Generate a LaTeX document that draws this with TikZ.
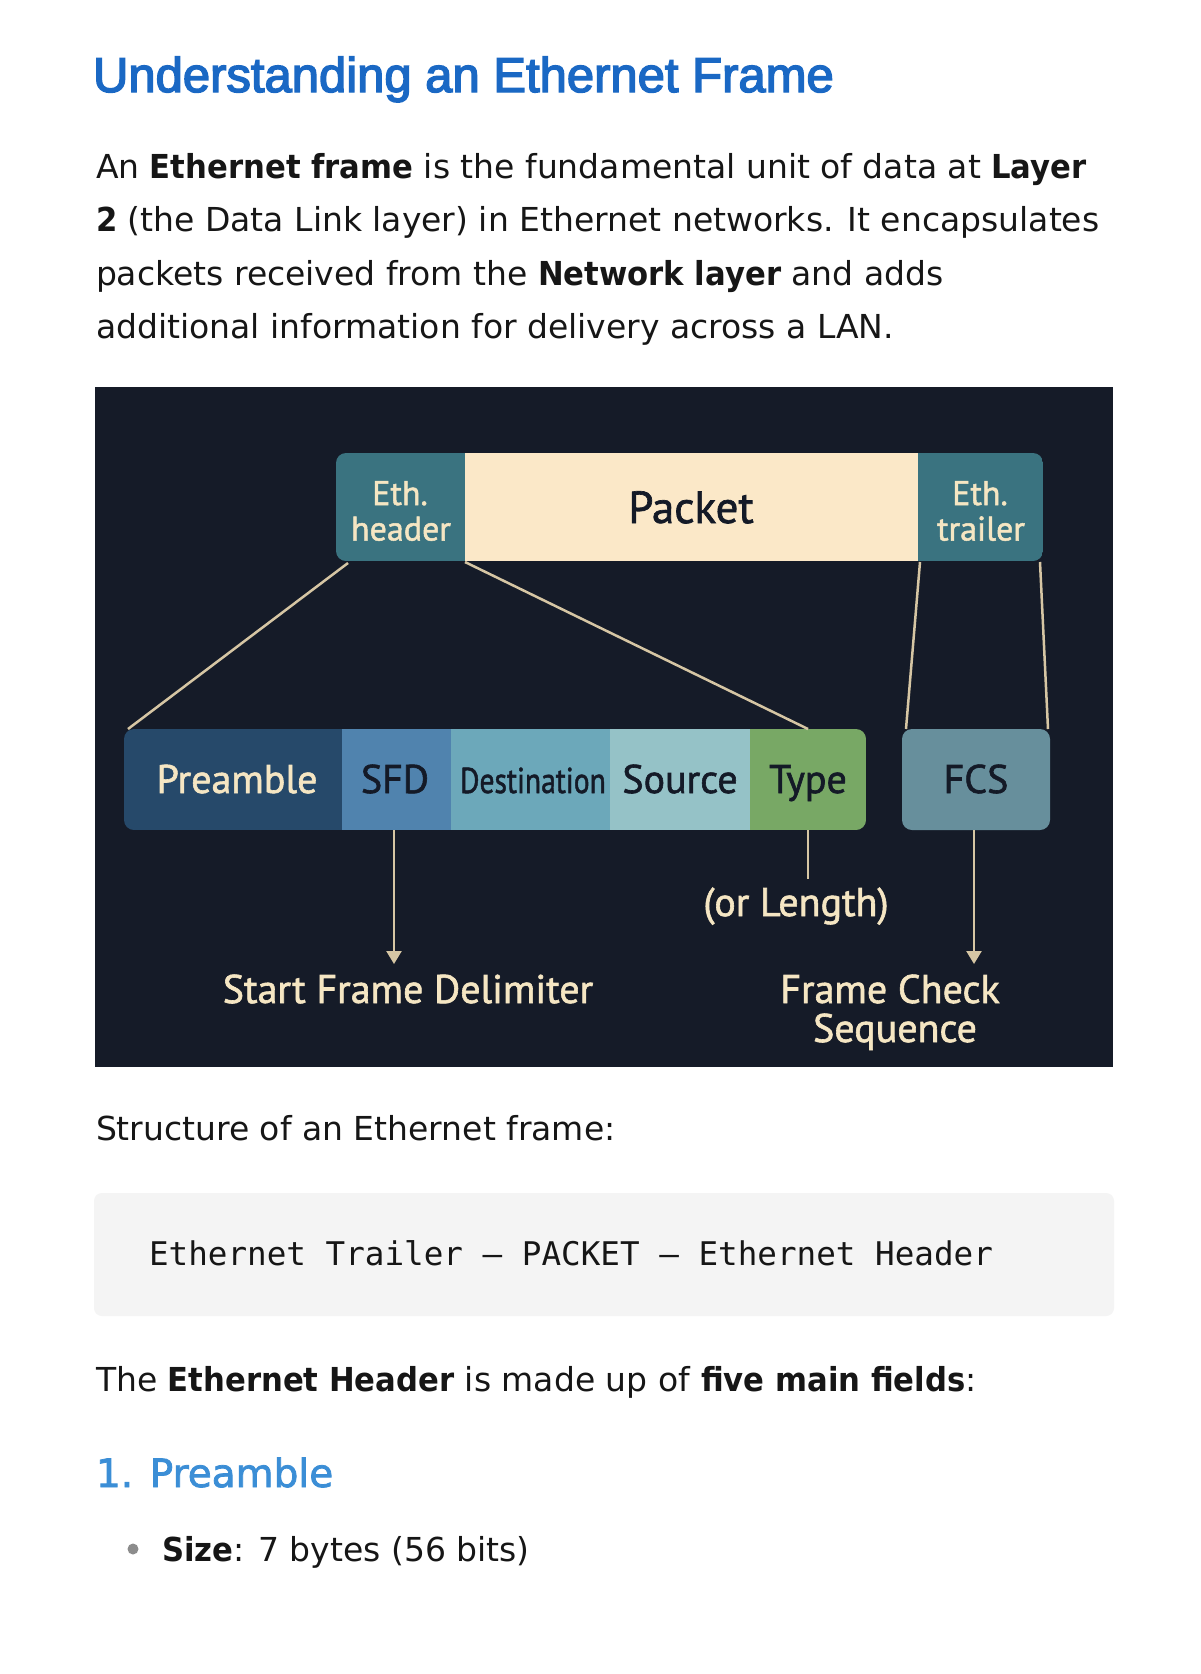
\documentclass[tikz,border=0pt]{standalone}
\usepackage{fontspec}
\setmainfont{DejaVu Sans}[BoldFeatures={FakeStretch=0.93}]
\newfontfamily\titlefont[FakeBold=3]{Liberation Sans}
\newfontfamily\headfont[FakeBold=2]{DejaVu Sans}
\newfontfamily\dfont[FakeBold=1.5]{PT Sans}
\newfontfamily\codefont{DejaVu Sans Mono}
\usetikzlibrary{arrows.meta,calc}
\newcommand{\setfs}[1]{\fontsize{#1}{#1}\selectfont}
\definecolor{bgdark}{HTML}{151B28}
\definecolor{tealC}{HTML}{3A7380}
\definecolor{creamC}{HTML}{FBE8C8}
\definecolor{txtcream}{HTML}{F5E6C3}
\definecolor{navytxt}{HTML}{141A27}
\definecolor{preC}{HTML}{26496A}
\definecolor{sfdC}{HTML}{5083AE}
\definecolor{dstC}{HTML}{6CA8BA}
\definecolor{srcC}{HTML}{95C2C7}
\definecolor{typC}{HTML}{78A865}
\definecolor{fcsC}{HTML}{678F9C}
\definecolor{lineC}{HTML}{D6C6A4}
\definecolor{titleblue}{HTML}{1A68C4}
\definecolor{headblue}{HTML}{3B8ED6}
\definecolor{codebg}{HTML}{F4F4F4}
\definecolor{bulletgray}{HTML}{8C8C8C}
\definecolor{bodyblack}{HTML}{161616}
\begin{document}
\begin{tikzpicture}[x=1pt,y=-1pt,
  every node/.style={inner sep=0pt, outer sep=0pt},
  bodytext/.style={anchor=base west, text=bodyblack, font=\setfs{33}},
  seg/.style={draw=none, minimum height=101pt},
  topseg/.style={draw=none, minimum height=108pt},
  lbl/.style={anchor=base, font=\dfont\setfs{40}},
  conn/.style={draw=lineC, line width=2.5pt},
  arr/.style={conn, -{Triangle[width=15pt,length=13pt]}}]
\fill[white] (0,0) rectangle (1200,1674);
\useasboundingbox (0,0) rectangle (1200,1674);

% title and intro
\node[anchor=base west, font=\titlefont\setfs{49}, text=titleblue] (title) at (93,92) {Understanding an Ethernet Frame};
\node[bodytext] (p1) at (96,178) {An \textbf{Ethernet frame} is the fundamental unit of data at \textbf{Layer}};
\node[bodytext] (p2) at (96,231.5) {\textbf{2} (the Data Link layer) in Ethernet networks. It encapsulates};
\node[bodytext] (p3) at (96,285) {packets received from the \textbf{Network layer} and adds};
\node[bodytext] (p4) at (96,338.5) {additional information for delivery across a LAN.};

% diagram panel
\node[fill=bgdark, minimum width=1018pt, minimum height=680pt] (panel) at (604,727) {};

% top bar
\begin{scope}
\clip[rounded corners=10pt] (336,453) rectangle (1043,561);
\node[topseg, fill=tealC, minimum width=129pt] (hdr) at (400.5,507) {};
\node[topseg, fill=creamC, minimum width=453pt] (pkt) at (691.5,507) {};
\node[topseg, fill=tealC, minimum width=125pt] (trl) at (980.5,507) {};
\end{scope}
\node[anchor=base, font=\dfont\setfs{34}, text=txtcream] (hdrA) at (400,505) {Eth.};
\node[anchor=base, font=\dfont\setfs{34}, text=txtcream] (hdrB) at (401,540.5) {header};
\node[anchor=base, font=\dfont\setfs{45}, text=navytxt] (pktT) at (691,523) {Packet};
\node[anchor=base, font=\dfont\setfs{34}, text=txtcream] (trlA) at (980,505) {Eth.};
\node[anchor=base, font=\dfont\setfs{34}, text=txtcream] (trlB) at (981,540.5) {trailer};

% bottom bar
\begin{scope}
\clip[rounded corners=10pt] (124,729) rectangle (866,830);
\node[seg, fill=preC, minimum width=218pt] (pre) at (233,779.5) {};
\node[seg, fill=sfdC, minimum width=109pt] (sfd) at (396.5,779.5) {};
\node[seg, fill=dstC, minimum width=159pt] (dst) at (530.5,779.5) {};
\node[seg, fill=srcC, minimum width=140pt] (src) at (680,779.5) {};
\node[seg, fill=typC, minimum width=116pt] (typ) at (808,779.5) {};
\end{scope}
\node[seg, fill=fcsC, minimum width=148pt, rounded corners=10pt] (fcs) at (976,779.5) {};

\node[lbl, text=txtcream] (preT) at (237,793) {Preamble};
\node[lbl, text=navytxt] (sfdT) at (395,793) {SFD};
\node[lbl, text=navytxt] (dstT) at (533,793) {\scalebox{0.74}[0.9]{Destination}};
\node[lbl, text=navytxt] (srcT) at (680,793) {Source};
\node[lbl, text=navytxt] (typT) at (808,793) {Type};
\node[lbl, text=navytxt] (fcsT) at (976,793) {FCS};

% connectors
\draw[conn] ($(hdr.south west)+(12,2)$) -- ($(pre.north west)+(4,0)$);
\draw[conn] ($(hdr.south east)+(0,1)$) -- (typ.north);
\draw[conn] ($(trl.south west)+(2,1)$) -- ($(fcs.north west)+(4,0)$);
\draw[conn] ($(trl.south east)+(-3,1)$) -- ($(fcs.north east)+(-2,0)$);

\coordinate (sfdTip) at (394,964);
\coordinate (typEnd) at (808,879);
\coordinate (fcsTip) at (974,964);
\draw[arr] ($(sfd.south)+(-2.5,0)$) -- (sfdTip);
\draw[conn] (typ.south) -- (typEnd);
\draw[arr] ($(fcs.south)+(-2,0)$) -- (fcsTip);

\node[lbl, text=txtcream] (sfdL) at (408,1003) {Start Frame Delimiter};
\node[lbl, text=txtcream] (lenL) at (796,916) {(or Length)};
\node[lbl, text=txtcream] (fcsL1) at (890,1003) {Frame Check};
\node[lbl, text=txtcream] (fcsL2) at (895,1042) {Sequence};

% below
\node[bodytext] (struct) at (96,1140) {Structure of an Ethernet frame:};
\node[fill=codebg, rounded corners=8pt, minimum width=1020pt, minimum height=123pt] (codebox) at (604,1254.5) {};
\node[anchor=base west, font=\codefont\setfs{32.6}, text=bodyblack] (code) at (149,1265) {Ethernet Trailer – PACKET – Ethernet Header};
\node[bodytext] (five) at (96,1391) {The \textbf{Ethernet Header} is made up of \textbf{five main fields}:};
\node[anchor=base west, font=\headfont\setfs{39}, text=headblue] (h1) at (96,1487) {1. Preamble};
\node[circle, fill=bulletgray, minimum size=11pt] (bullet) at (133,1549) {};
\node[bodytext] (size) at (162,1561) {\textbf{Size}: 7 bytes (56 bits)};
\end{tikzpicture}
\end{document}
